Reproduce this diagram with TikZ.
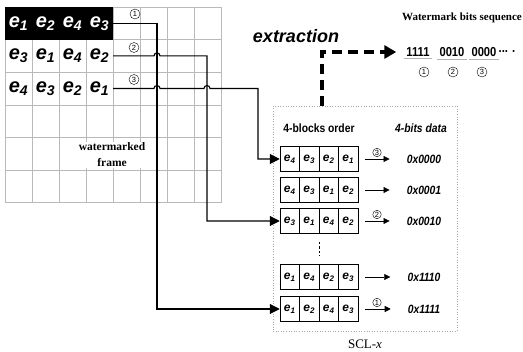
\documentclass[tikz,border=0pt]{standalone}
\usepackage{fontspec}
\setmainfont{Liberation Serif}
\setsansfont{Liberation Sans}
\newfontfamily\narrowsf[FakeStretch=0.86]{Liberation Sans}
\usetikzlibrary{arrows.meta,positioning}

\tikzset{
  gridline/.style={draw=gray!55, line width=0.5pt},
  bigcell/.style={minimum width=27pt, minimum height=32.6pt, inner sep=0pt,
    font=\sffamily\bfseries\itshape\fontsize{20}{20}\selectfont},
  blockcell/.style={draw, line width=0.5pt, minimum width=19.5pt, minimum height=25pt,
    inner sep=0pt, font=\sffamily\bfseries\itshape\fontsize{12}{12}\selectfont},
  cnum/.style={circle, draw, line width=0.4pt, inner sep=0pt, minimum size=10pt,
    font=\sffamily\fontsize{7.5}{7.5}\selectfont},
  wire/.style={line width=1.1pt},
  wirein/.style={wire, -{Triangle[length=10pt,width=10pt]}},
  bitarrow/.style={line width=0.6pt, -{Triangle[length=6pt,width=6pt]}},
  hexlabel/.style={inner sep=0pt, font=\narrowsf\bfseries\itshape\fontsize{12}{12}\selectfont},
  extract/.style={line width=3.5pt, dash pattern=on 10pt off 6pt,
    -{Triangle[length=12pt,width=13pt]}},
  uline/.style={draw=gray!60, line width=0.5pt},
}

\begin{document}
\begin{tikzpicture}[x=1pt,y=-1pt]
  \useasboundingbox (0,0) rectangle (523,352);

  % watermarked frame
  \foreach \i in {0,...,8} \draw[gridline] (5+27*\i,7) -- (5+27*\i,202.6);
  \foreach \j in {0,...,6} \draw[gridline] (5,7+32.6*\j) -- (221,7+32.6*\j);
  \fill (5,7) rectangle (113,39.6);
  \foreach \n [count=\c from 0] in {1,2,4,3}
    \node[bigcell, text=white] (g0\c) at (18.5+27*\c,23.3) {e\textsubscript{\n}};
  \foreach \n [count=\c from 0] in {3,1,4,2}
    \node[bigcell] (g1\c) at (18.5+27*\c,55.9) {e\textsubscript{\n}};
  \foreach \n [count=\c from 0] in {4,3,2,1}
    \node[bigcell] (g2\c) at (18.5+27*\c,88.5) {e\textsubscript{\n}};
  \node[fill=white, inner sep=1pt, align=center, font=\bfseries\fontsize{11.5}{16}\selectfont]
    (wmlabel) at (112,155) {watermarked\\frame};
  \node[cnum] (c1) at (135,14) {1};
  \node[cnum] (c2) at (134,47.5) {2};
  \node[cnum] (c3) at (134,79.5) {3};

  % SCL-x table
  \node[draw=gray!70, dotted, line width=0.6pt, minimum width=184pt, minimum height=225pt]
    (scl) at (365,218.5) {};
  \node[font=\fontsize{13}{13}\selectfont] (scllabel) at (365,344) {SCL-\textit{x}};
  \node[font=\narrowsf\bfseries\fontsize{12}{12}\selectfont] (hdorder) at (319,128) {4-blocks order};
  \node[font=\narrowsf\bfseries\itshape\fontsize{12}{12}\selectfont] (hddata) at (421,128) {4-bits data};
  \foreach \y/\row/\seq/\hex in {159/1/{4,3,2,1}/0x0000, 190/2/{4,3,1,2}/0x0001,
      221/3/{3,1,4,2}/0x0010, 277/4/{1,4,2,3}/0x1110, 309/5/{1,2,4,3}/0x1111} {
    \foreach \n [count=\k] in \seq
      \node[blockcell] (b\row\k) at (270.25+19.5*\k,\y) {e\textsubscript{\n}};
    \node[hexlabel] (h\row) at (424,\y) {\hex};
    \draw[bitarrow, shorten <=7pt, shorten >=17pt] (b\row4.east) -- (h\row.west);
  }
  \node[cnum, minimum size=8.5pt, fill=white] (m3) at (377,152.5) {3};
  \node[cnum, minimum size=8.5pt, fill=white] (m2) at (377,214.5) {2};
  \node[cnum, minimum size=8.5pt, fill=white] (m1) at (377,302.5) {1};
  \draw[dash pattern=on 2.5pt off 2pt, line width=0.9pt]
    ([yshift=-8pt]b32.south east) -- ([yshift=8pt]b42.north east);

  % wires from the frame to the table
  \coordinate (j1) at (154,0);
  \coordinate (v1) at (157,0);
  \coordinate (j2) at (204,0);
  \coordinate (v2) at (207,0);
  \coordinate (v3) at (258,0);
  \draw[wirein] (g03.east) -| (v1 |- b51.west) -- (b51.west);
  \draw[wirein] (g13.east) -- (j1 |- g13.east) arc[start angle=180, end angle=0, radius=3pt]
    -| (v2 |- b31.west) -- (b31.west);
  \draw[wirein] (g23.east) -- (j1 |- g23.east) arc[start angle=180, end angle=0, radius=3pt]
    -- (j2 |- g23.east) arc[start angle=180, end angle=0, radius=3pt]
    -| (v3 |- b11.west) -- (b11.west);

  % extracted bits
  \node[font=\bfseries\fontsize{11}{11}\selectfont] (wmbits) at (462,18) {Watermark bits sequence};
  \node[font=\sffamily\bfseries\itshape\fontsize{18}{18}\selectfont] (extr) at (296,36) {extraction};
  \node[inner sep=2pt, font=\narrowsf\bfseries\fontsize{13}{13}\selectfont] (q1) at (418,52) {1111};
  \node[inner sep=2pt, font=\narrowsf\bfseries\fontsize{13}{13}\selectfont] (q2) at (452,52) {0010};
  \node[inner sep=2pt, font=\narrowsf\bfseries\fontsize{13}{13}\selectfont] (q3) at (484,52) {0000};
  \node[inner sep=2pt, font=\narrowsf\bfseries\fontsize{13}{13}\selectfont] (qdots) at (507,52) {... .};
  \draw[uline] (q1.south west) -- (q1.south east);
  \draw[uline] (q2.south west) -- (q2.south east);
  \draw[uline] (q3.south west) -- (q3.south east);
  \node[cnum] (n1) at (424,72) {1};
  \node[cnum] (n2) at (453,72) {2};
  \node[cnum] (n3) at (482,72) {3};
  \coordinate (xt) at (322,0);
  \draw[extract, shorten >=8pt] (xt |- scl.north) |- (q1.west);
\end{tikzpicture}
\end{document}
